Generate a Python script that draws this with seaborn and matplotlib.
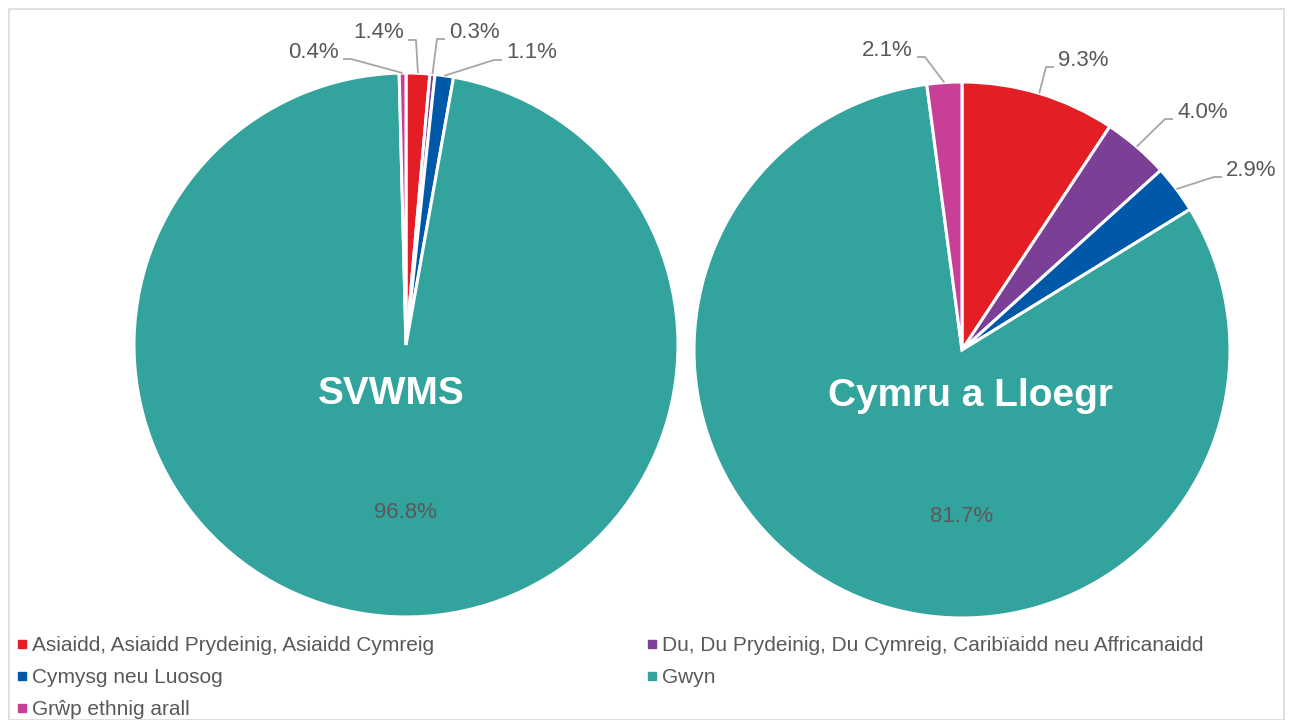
import matplotlib
matplotlib.use("Agg")
import matplotlib.pyplot as plt
import seaborn as sns
import numpy as np
from matplotlib.lines import Line2D
from matplotlib.patches import Rectangle

# ---------------- data ----------------
categories = [
    "Asiaidd, Asiaidd Prydeinig, Asiaidd Cymreig",
    "Du, Du Prydeinig, Du Cymreig, Carib\u00efaidd neu Affricanaidd",
    "Cymysg neu Luosog",
    "Gwyn",
    "Gr\u0175p ethnig arall",
]
svwms_values = [1.4, 0.3, 1.1, 96.8, 0.4]
cymru_values = [9.3, 4.0, 2.9, 81.7, 2.1]
pie_titles = ["SVWMS", "Cymru a Lloegr"]
colors = ["#E31E24", "#7B3F96", "#0058A8", "#33A39E", "#C83F97"]

# ---------------- style ----------------
sns.set_theme(style="white")
plt.rcParams["font.family"] = ["Liberation Sans", "DejaVu Sans"]
TXT = "#595959"
LINE = "#A6A6A6"
PCT_FS = 16

W, H = 1293, 720
fig = plt.figure(figsize=(W / 100, H / 100), dpi=100)
ax = fig.add_axes([0, 0, 1, 1])


def P(x, y):
    return x, H - y


# layout: centre, radius (pixels), label layout per slice index
pies = [
    dict(values=svwms_values, cx=406, cy=345, r=272,
         outside={4: ("L", 339, 52), 0: ("L", 404, 33), 1: ("R", 449, 32), 2: ("R", 506, 53)},
         inside=(405, 513), title=(391, 394)),
    dict(values=cymru_values, cx=962, cy=350, r=268,
         outside={4: ("L", 913, 50), 0: ("R", 1058, 60), 1: ("R", 1177, 112), 2: ("R", 1226, 170)},
         inside=(962, 517), title=(971, 396)),
]

for pdef, title in zip(pies, pie_titles):
    vals = pdef["values"]
    cx, cy, r = pdef["cx"], pdef["cy"], pdef["r"]
    ax.pie(vals, center=P(cx, cy), radius=r, startangle=90, counterclock=False,
           colors=colors, wedgeprops=dict(edgecolor="white", linewidth=2.2))
    total = float(sum(vals))
    cum = np.cumsum([0] + list(vals))
    for i, (side, tx, ty) in pdef["outside"].items():
        mid = 90 - (cum[i] + vals[i] / 2) / total * 360
        ax_x = cx + r * np.cos(np.radians(mid))
        ax_y = cy - r * np.sin(np.radians(mid))
        ly = ty + 7
        if side == "L":
            x0 = tx + 4
            x1 = x0 + 8
            ha = "right"
        else:
            x0 = tx - 4
            x1 = x0 - 8
            ha = "left"
        ax.text(*P(tx, ty), f"{vals[i]:.1f}%", ha=ha, va="center",
                fontsize=PCT_FS, color=TXT)
        ax.plot([x0, x1, ax_x], [H - ly, H - ly, H - ax_y], color=LINE, lw=1.3,
                solid_capstyle="butt")
    ix, iy = pdef["inside"]
    ax.text(*P(ix, iy), f"{vals[3]:.1f}%", ha="center", va="center",
            fontsize=PCT_FS, color=TXT)
    tx, ty = pdef["title"]
    ax.text(*P(tx, ty), title, ha="center", va="center", fontsize=28,
            fontweight="bold", color="white")

ax.set_xlim(0, W)
ax.set_ylim(0, H)
ax.set_aspect("auto")
ax.axis("off")

# border
fig.patches.append(Rectangle((9 / W, 0), (W - 18) / W, (H - 9) / H,
                             transform=fig.transFigure, fill=False,
                             edgecolor="#D9D9D9", lw=1.2))

# legend
def handle(c):
    return Line2D([], [], marker="s", linestyle="none", markersize=6,
                  markerfacecolor=c, markeredgecolor=c)

col1 = [0, 2, 4]
col2 = [1, 3]
for idx, x in ((col1, 7), (col2, 637)):
    leg = fig.legend([handle(colors[i]) for i in idx], [categories[i] for i in idx],
                     loc="upper left", bbox_to_anchor=(x / W, 1 - 628 / H),
                     frameon=False, fontsize=15, handlelength=0.6,
                     handletextpad=0.2, labelspacing=0.62, borderaxespad=0)
    for t in leg.get_texts():
        t.set_color(TXT)

fig.savefig("out.png", dpi=100)
